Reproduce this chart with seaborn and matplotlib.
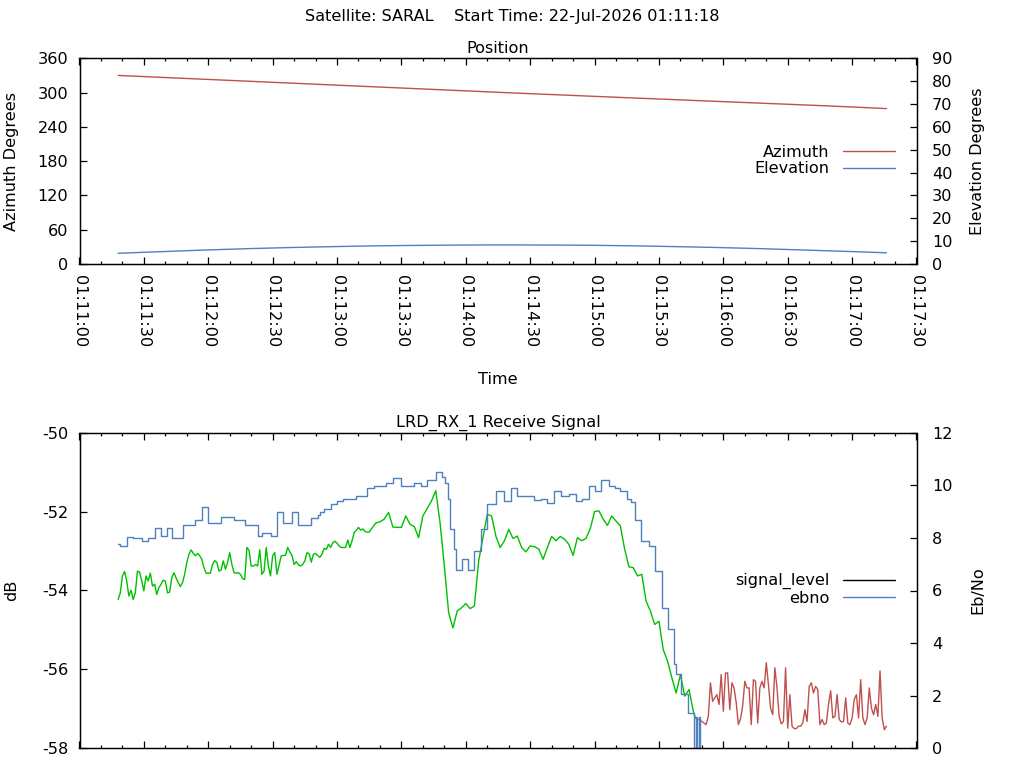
import numpy as np
import pandas as pd
import matplotlib
matplotlib.use('Agg')
import matplotlib.pyplot as plt
import matplotlib.dates as mdates
from matplotlib.lines import Line2D
import seaborn as sns

# seconds after 01:11:00
BASE = pd.Timestamp('2026-07-22 01:11:00')
RED, BLUE, GREEN = '#c0504d', '#4f81bd', '#00c000'
FS = 11.6

pos_t = [18, 48, 78, 108, 138, 168, 198, 228, 258, 288, 318, 348, 376]
azimuth = [330, 325, 320, 315, 310, 305, 300, 295.3, 290.6, 286, 281.4, 276.8, 272]
el_t = [18, 38, 58, 78, 98, 118, 138, 158, 178, 198, 218, 238, 258, 278, 298, 318, 338, 358, 376]
elevation = [4.7, 5.4, 6.1, 6.7, 7.2, 7.6, 7.95, 8.15, 8.3, 8.35, 8.3, 8.2, 7.95, 7.6, 7.2, 6.7, 6.1, 5.5, 4.9]

# signal level while locked: every 1 s for t=18..136, then every 2 s for t=138..286
signal_locked_t = np.r_[np.arange(18, 137), np.arange(138, 287, 2)]
signal_locked = [
    -54.23, -54.06, -53.63, -53.52, -53.76, -54.14, -53.99, -54.23, -54.06, -53.51,
    -53.53, -53.76, -54.01, -53.63, -53.76, -53.56, -53.89, -53.84, -54.10, -53.93,
    -53.84, -53.74, -53.76, -54.06, -54.04, -53.68, -53.55, -53.68, -53.80, -53.90,
    -53.80, -53.59, -53.29, -53.08, -52.97, -53.06, -53.12, -53.06, -53.12, -53.21,
    -53.42, -53.56, -53.56, -53.56, -53.34, -53.24, -53.29, -53.51, -53.48, -53.25,
    -53.46, -53.29, -53.04, -53.34, -53.55, -53.56, -53.55, -53.59, -53.70,
    -53.72, -52.91, -52.98, -53.38, -53.38, -53.34, -53.38, -52.97, -53.59, -53.51,
    -52.91, -53.38, -53.63, -53.12, -53.04, -53.59, -53.36, -53.12, -53.11, -53.11,
    -52.91, -53.02, -53.11, -53.34, -53.27, -53.35, -53.38, -53.34, -53.25, -53.04,
    -53.07, -53.28, -53.08, -53.06, -53.11, -53.16, -53.08, -52.93, -52.96, -52.83,
    -52.91, -52.79, -52.75, -52.80, -52.87, -52.91, -52.91, -52.91, -52.72, -52.91,
    -52.74, -52.53, -52.47, -52.40, -52.47, -52.44, -52.50, -52.52, -52.52, -52.44,
    -52.29, -52.26, -52.19, -52.02, -52.39, -52.40, -52.40, -52.11, -52.32, -52.38,
    -52.66, -52.11, -51.92, -51.73, -51.47, -52.28, -53.38, -54.56, -54.95, -54.52,
    -54.44, -54.33, -54.46, -54.39, -53.25, -52.66, -52.07, -52.11, -52.62, -52.91,
    -52.74, -52.45, -52.68, -52.62, -52.91, -53.02, -52.87, -52.89, -52.95, -53.21,
    -52.91, -52.63, -52.74, -52.63, -52.70, -52.83, -53.11, -52.66, -52.74, -52.68,
    -52.43, -52.00, -51.98, -52.19, -52.35, -52.11, -52.24, -52.36, -52.95, -53.40,
    -53.42, -53.63, -53.59, -54.27, -54.52, -54.86, -54.78, -55.50, -55.79, -56.21,
    -56.60, -56.13, -56.68, -56.51, -57.06,
]
# signal level after lock loss, every 1 s from t=287
signal_unlocked = [
    -57.23, -57.27, -57.27, -57.32, -57.36, -57.40, -57.19, -56.34, -56.81, -56.72,
    -56.64, -56.89, -56.13, -57.06, -56.09, -56.09, -57.02, -56.34, -56.47, -56.85,
    -57.40, -57.25, -56.93, -56.30, -56.47, -56.47, -57.40, -56.26, -56.30, -57.36,
    -56.47, -56.30, -56.47, -55.83, -56.38, -56.98, -57.15, -55.96, -56.47, -57.19,
    -57.38, -57.32, -55.96, -57.49, -56.64, -57.44, -57.50, -57.50, -57.44, -57.44,
    -57.36, -57.02, -57.32, -56.43, -56.34, -56.60, -56.43, -56.51, -57.40, -57.27,
    -57.40, -57.36, -56.89, -56.54, -57.23, -57.19, -56.64, -57.27, -57.33, -57.32,
    -56.72, -57.36, -57.40, -57.23, -56.76, -56.64, -57.23, -56.26, -57.23, -57.40,
    -57.23, -56.47, -56.98, -57.15, -56.89, -57.19, -56.04, -57.23, -57.53, -57.44,
]
# ebno change points
ebno_t = [18, 19, 22, 25, 29, 32, 35, 38, 41, 43, 48, 54, 57, 60, 66, 72, 77, 83, 85, 89,
          92, 95, 99, 102, 108, 111, 112, 114, 117, 120, 123, 129, 134, 137, 143, 146, 150,
          156, 159, 162, 166, 169, 170.5, 171.5, 172.5, 174.5, 175.5, 178, 181, 184, 187,
          190, 194, 198, 201, 204, 212, 215, 218, 221, 224.5, 228, 231.5, 234, 237.5, 240,
          243, 246.5, 249.5, 252, 255, 257, 259, 261.5, 265.5, 268, 271.5, 274, 277, 278,
          280.5, 283.5, 286.5, 287.3, 287.8, 288.5, 289]
ebno = [7.76, 7.70, 8.05, 8.00, 7.89, 8.00, 8.37, 8.08, 8.37, 8.00, 8.48, 8.67, 9.17, 8.56,
        8.79, 8.69, 8.48, 8.08, 8.20, 8.08, 8.99, 8.58, 8.99, 8.48, 8.77, 8.86, 8.99, 9.09,
        9.28, 9.41, 9.47, 9.60, 9.88, 9.98, 10.08, 10.26, 9.98, 10.08, 9.98, 10.20, 10.51,
        10.30, 10.08, 9.47, 8.33, 7.57, 6.78, 7.19, 6.78, 7.50, 8.33, 9.28, 9.79, 9.41, 9.88,
        9.60, 9.43, 9.47, 9.31, 9.79, 9.60, 9.66, 9.41, 9.47, 9.98, 9.79, 10.20, 9.98, 9.89,
        9.79, 9.47, 9.35, 8.67, 7.89, 7.70, 6.74, 5.35, 4.52, 3.19, 2.81, 2.05, 1.35, 0.0,
        1.2, 0.0, 1.2, 0.0]


def to_time(sec):
    return BASE + pd.to_timedelta(np.asarray(sec, dtype=float), unit='s')


unlocked_t = to_time(287 + np.arange(len(signal_unlocked)))
# join the two pieces so the trace is continuous
locked_t = to_time(signal_locked_t).append(unlocked_t[:1])
signal_locked = signal_locked + signal_unlocked[:1]

sns.set_style('ticks', {'xtick.direction': 'in', 'ytick.direction': 'in',
                        'text.color': 'black', 'axes.labelcolor': 'black',
                        'xtick.color': 'black', 'ytick.color': 'black',
                        'axes.edgecolor': 'black'})
plt.rcParams['font.family'] = ['DejaVu Sans']
plt.rcParams['font.size'] = FS
plt.rcParams['axes.linewidth'] = 0.9
plt.rcParams['axes.unicode_minus'] = False

fig = plt.figure(figsize=(10.24, 7.68), dpi=100)
L, W = 79.5 / 1024, 837 / 1024
ax1 = fig.add_axes([L, 1 - 264 / 768, W, 205.7 / 768])
ax3 = fig.add_axes([L, 1 - 748.3 / 768, W, 315.6 / 768], sharex=ax1)
ax2 = ax1.twinx()
ax4 = ax3.twinx()

fig.text(0.5, 1 - 17 / 768, 'Satellite: SARAL    Start Time: 22-Jul-2026 01:11:18',
         ha='center', va='center', fontsize=FS)

# Position
sns.lineplot(x=to_time(pos_t), y=azimuth, ax=ax1, color=RED, lw=1.0)
sns.lineplot(x=to_time(el_t), y=elevation, ax=ax2, color=BLUE, lw=1.0)
ax1.set_ylim(0, 360)
ax1.set_yticks(range(0, 361, 60))
ax2.set_ylim(0, 90)
ax2.set_yticks(range(0, 91, 10))
ax1.set_title('Position', pad=4, fontsize=FS)
ax1.set_ylabel('Azimuth Degrees', fontsize=FS)
ax2.set_ylabel('Elevation Degrees', fontsize=FS)
ax1.set_xlabel('Time', fontsize=FS)
ax1.yaxis.set_label_coords(-0.072, 0.5)
ax2.yaxis.set_label_coords(1.064, 0.5)
ax1.xaxis.set_label_coords(0.5, -0.525)
leg_kw = dict(loc='center right', bbox_to_anchor=(0.9743, 0.503), frameon=False,
              markerfirst=False, handlelength=3.2, handletextpad=0.85, labelspacing=0.1,
              borderpad=0, borderaxespad=0, fontsize=FS)
ax2.legend(handles=[Line2D([], [], color=RED, lw=1.0), Line2D([], [], color=BLUE, lw=1.0)],
           labels=['Azimuth', 'Elevation'], **leg_kw)

# Receive signal
sns.lineplot(x=locked_t, y=signal_locked, ax=ax3, color=GREEN, lw=1.0)
sns.lineplot(x=unlocked_t, y=signal_unlocked, ax=ax3, color=RED, lw=1.0)
sns.lineplot(x=to_time(ebno_t), y=ebno, ax=ax4, color=BLUE, lw=1.0, drawstyle='steps-post')
ax3.set_ylim(-58, -50)
ax3.set_yticks(range(-58, -49, 2))
ax4.set_ylim(0, 12)
ax4.set_yticks(range(0, 13, 2))
ax3.set_title('LRD_RX_1 Receive Signal', pad=4, fontsize=FS)
ax3.set_xlabel('')
ax3.set_ylabel('dB', fontsize=FS)
ax4.set_ylabel('Eb/No', fontsize=FS)
ax3.yaxis.set_label_coords(-0.072, 0.5)
ax4.yaxis.set_label_coords(1.064, 0.5)
ax4.legend(handles=[Line2D([], [], color='black', lw=1.0), Line2D([], [], color=BLUE, lw=1.0)],
           labels=['signal_level', 'ebno'], **leg_kw)

ax1.set_xlim(to_time([0])[0], to_time([390])[0])
for ax in (ax1, ax3):
    ax.xaxis.set_major_locator(mdates.SecondLocator(bysecond=[0, 30]))
    ax.xaxis.set_minor_locator(mdates.SecondLocator(bysecond=[10, 20, 40, 50]))
    ax.xaxis.set_major_formatter(mdates.DateFormatter('%H:%M:%S'))
    ax.tick_params(axis='x', which='both', top=True, direction='in')
    ax.tick_params(axis='x', which='major', length=5, width=0.9)
    ax.tick_params(axis='x', which='minor', length=2.5, width=0.9)
    ax.tick_params(axis='y', which='major', length=5, width=0.9, pad=8, labelsize=FS)
for ax in (ax2, ax4):
    ax.tick_params(axis='y', which='major', length=5, width=0.9, pad=11, direction='in', labelsize=FS)
ax1.tick_params(axis='x', labelrotation=-90, pad=8, labelsize=FS)
ax3.tick_params(axis='x', labelbottom=False)

plt.savefig('out.png', dpi=100)
